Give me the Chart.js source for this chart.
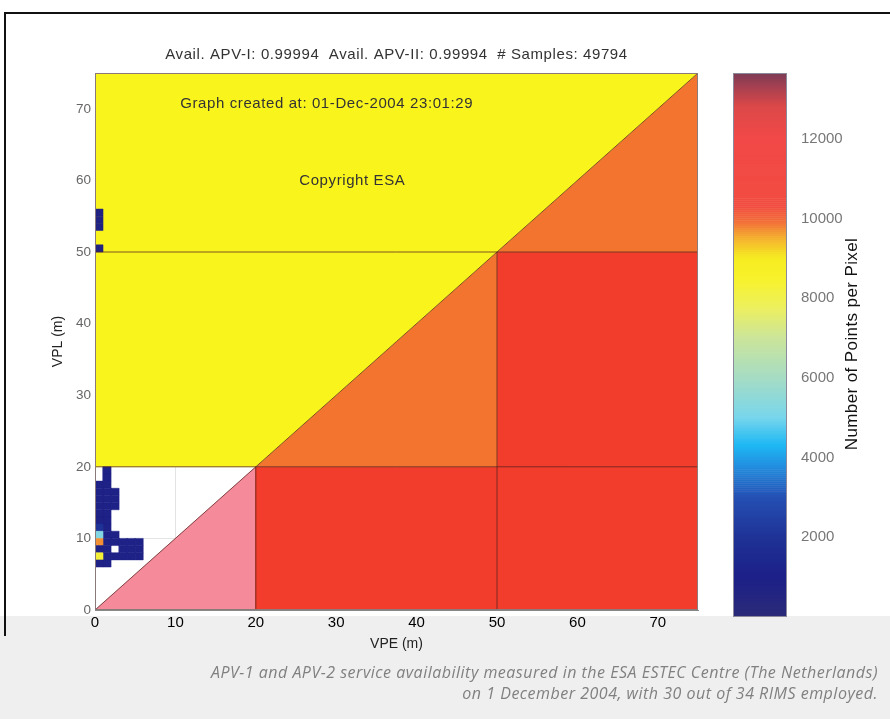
<!DOCTYPE html>
<html>
<head>
<meta charset="utf-8">
<script src="https://cdn.jsdelivr.net/npm/chart.js@4.4.1/dist/chart.umd.min.js"></script>
<style>
html, body { margin: 0; padding: 0; background: #fff; }
#page { position: relative; width: 890px; height: 719px; overflow: hidden; background: #fff; }
#band { position: absolute; left: 0; top: 616px; width: 890px; height: 103px; background: #efefef; }
#frameTop { position: absolute; left: 4px; top: 12px; width: 886px; height: 2px; background: #111; }
#frameLeft { position: absolute; left: 4px; top: 12px; width: 2px; height: 624px; background: #111; }
#main { position: absolute; left: 0; top: 0; }
#cbar { position: absolute; left: 700px; top: 0; }
#caption { position: absolute; right: 12px; top: 662px; text-align: right; font-family: "Open Sans", Lato, sans-serif;
           font-style: italic; font-size: 16px; letter-spacing: 0.5px; line-height: 21px; color: #808080; }
</style>
</head>
<body>
<div id="page">
  <div id="band"></div>
  <div id="frameTop"></div>
  <div id="frameLeft"></div>
  <canvas id="main" width="890" height="719"></canvas>
  <canvas id="cbar" width="190" height="719"></canvas>
  <div id="caption">APV-1 and APV-2 service availability measured in the ESA ESTEC Centre (The Netherlands)<br>on 1 December 2004, with 30 out of 34 RIMS employed.</div>
</div>
<script>
// ── Data ───────────────────────────────────────────────────────────────
var titleText = "Avail. APV-I: 0.99994  Avail. APV-II: 0.99994  # Samples: 49794";
var axisMin = 0;
var axisMax = 75;
var axisTicks = [0, 10, 20, 30, 40, 50, 60, 70];

// in-plot notes (data coordinates, left aligned)
var noteTexts = ["Graph created at: 01-Dec-2004 23:01:29", "Copyright ESA"];
var noteX = [10.6, 25.4];
var noteY = [70.7, 59.9];

// Stanford regions (polygons in metres)
var regionColors = ["#faf41d", "#f2742f", "#f23c2c", "#f58a9a"];
var regionX = [[0, 20, 75, 0], [20, 50, 50, 75, 75], [20, 75, 75, 50, 50, 20], [0, 20, 20]];
var regionY = [[20, 20, 75, 75], [20, 20, 50, 50, 75], [0, 0, 50, 50, 20, 20], [0, 0, 20]];

// alert-limit lines and VPL = VPE diagonal
var lineX = [[0, 75], [0, 75], [20, 20], [50, 50], [0, 75]];
var lineY = [[20, 20], [50, 50], [0, 20], [0, 50], [0, 75]];

// histogram cells (1 m bins, lower-left corner) and points per pixel
var cellX = [0, 0, 0, 0, 0, 0, 0, 0, 0, 0, 0, 0,
             1, 1, 1, 1, 1, 1, 1, 1, 1, 1, 1, 1, 1, 1,
             2, 2, 2, 2, 2, 2,
             3, 3, 3, 4, 4, 4, 5, 5, 5,
             0, 0, 0, 0];
var cellY = [6, 7, 8, 9, 10, 11, 12, 13, 14, 15, 16, 17,
             6, 7, 8, 9, 10, 11, 12, 13, 14, 15, 16, 17, 18, 19,
             7, 9, 10, 14, 15, 16,
             7, 8, 9, 7, 8, 9, 7, 8, 9,
             50, 53, 54, 55];
var cellCount = [900, 8300, 900, 9700, 5200, 2000, 900, 900, 900, 900, 900, 900,
                 900, 900, 900, 900, 900, 900, 900, 900, 900, 900, 900, 900, 900, 900,
                 900, 900, 900, 900, 900, 900,
                 900, 900, 900, 900, 900, 900, 900, 900, 900,
                 700, 700, 700, 700];

// colour bar
var cbarMin = 0;
var cbarMax = 13650;
var cbarTicks = [2000, 4000, 6000, 8000, 10000, 12000];
var cbarTitle = "Number of Points per Pixel";
var cmapValues = [0, 1000, 2000, 3000, 3800, 4300, 5000, 6000, 7000, 7800, 8500, 9000, 9500, 9900, 10300, 12000, 12800, 13300, 13650];
var cmapColors = ["#2b2a78", "#1c2088", "#1f3296", "#2450b4", "#2290e0", "#1eb8f4", "#78d6ec", "#a6dcc4", "#cce59a",
                  "#eef05a", "#f8f22a", "#f6ec22", "#f4b030", "#f27038", "#f24c40", "#f24848", "#dc4848", "#a44050", "#7c3c56"];
var cbarSlab = 50;

Chart.defaults.font.family = '"Liberation Sans", Arial, sans-serif';

// ── Helpers ────────────────────────────────────────────────────────────
function hexToRgb(h) {
    return [parseInt(h.substr(1, 2), 16), parseInt(h.substr(3, 2), 16), parseInt(h.substr(5, 2), 16)];
}
function colorFor(v) {
    if (v <= cmapValues[0]) { return cmapColors[0]; }
    for (var i = 1; i < cmapValues.length; i++) {
        if (v <= cmapValues[i]) {
            var t = (v - cmapValues[i - 1]) / (cmapValues[i] - cmapValues[i - 1]);
            var a = hexToRgb(cmapColors[i - 1]), b = hexToRgb(cmapColors[i]);
            return "rgb(" + Math.round(a[0] + (b[0] - a[0]) * t) + "," +
                Math.round(a[1] + (b[1] - a[1]) * t) + "," + Math.round(a[2] + (b[2] - a[2]) * t) + ")";
        }
    }
    return cmapColors[cmapColors.length - 1];
}
function polygon(xs, ys) {
    var pts = xs.map(function (x, i) { return { x: x, y: ys[i] }; });
    pts.push({ x: xs[0], y: ys[0] });
    return pts;
}
function fixedTicks(list) {
    return function (scale) {
        scale.ticks = list.map(function (v) { return { value: v }; });
    };
}

// ── Main Stanford plot ─────────────────────────────────────────────────
var datasets = [];
lineX.forEach(function (xs, i) {
    datasets.push({
        data: polygon(xs, lineY[i]).slice(0, xs.length),
        showLine: true, fill: false, pointRadius: 0,
        borderColor: "rgba(85,35,30,0.75)", borderWidth: 1
    });
});
cellX.forEach(function (x, i) {
    var c = colorFor(cellCount[i]);
    datasets.push({
        data: polygon([x, x + 1, x + 1, x], [cellY[i], cellY[i], cellY[i] + 1, cellY[i] + 1]),
        showLine: true, fill: "shape", pointRadius: 0,
        backgroundColor: c, borderColor: c, borderWidth: 0.5
    });
});
regionX.forEach(function (xs, i) {
    datasets.push({
        data: polygon(xs, regionY[i]),
        showLine: true, fill: "shape", pointRadius: 0,
        backgroundColor: regionColors[i], borderColor: regionColors[i], borderWidth: 0.5
    });
});

var textPlugin = {
    id: "stanfordText",
    afterDatasetsDraw: function (chart) {
        var ctx = chart.ctx, a = chart.chartArea;
        var sx = chart.scales.x, sy = chart.scales.y;
        ctx.save();
        ctx.strokeStyle = "#8a7a7a";
        ctx.lineWidth = 1;
        ctx.strokeRect(a.left + 0.5, a.top + 0.5, a.right - a.left - 1, a.bottom - a.top - 1);
        ctx.fillStyle = "#333";
        ctx.font = '15px "Liberation Sans", Arial, sans-serif';
        ctx.letterSpacing = "0.6px";
        ctx.textBaseline = "middle";
        ctx.textAlign = "center";
        ctx.fillText(titleText, (a.left + a.right) / 2, 55);
        ctx.textAlign = "left";
        noteTexts.forEach(function (t, i) {
            ctx.fillText(t, sx.getPixelForValue(noteX[i]), sy.getPixelForValue(noteY[i]));
        });
        ctx.restore();
    }
};

new Chart(document.getElementById("main"), {
    type: "scatter",
    data: { datasets: datasets },
    options: {
        responsive: false,
        animation: false,
        layout: { padding: { left: 46, right: 192, top: 73, bottom: 62 } },
        plugins: { legend: { display: false }, tooltip: { enabled: false } },
        scales: {
            x: {
                type: "linear", min: axisMin, max: axisMax,
                afterBuildTicks: fixedTicks(axisTicks),
                afterFit: function (s) { s.height = 47; },
                ticks: { color: "#000", font: { size: 15 }, padding: 4 },
                grid: { color: "#e4e4e4", drawTicks: false },
                border: { color: "#888" },
                title: { display: true, text: "VPE (m)", color: "#222", font: { size: 14 } }
            },
            y: {
                type: "linear", min: axisMin, max: axisMax,
                afterBuildTicks: fixedTicks(axisTicks),
                afterFit: function (s) { s.width = 49; },
                ticks: { color: "#666", font: { size: 13.5 }, padding: 4 },
                grid: { color: "#e4e4e4", drawTicks: false },
                border: { color: "#888" },
                title: { display: true, text: "VPL (m)", color: "#222", font: { size: 14 } }
            }
        }
    },
    plugins: [textPlugin]
});

// ── Colour bar ─────────────────────────────────────────────────────────
var cbarSets = [];
for (var v = cbarMin; v < cbarMax; v += cbarSlab) {
    var h = Math.min(cbarSlab, cbarMax - v);
    cbarSets.push({ data: [h], backgroundColor: colorFor(v + h / 2), borderWidth: 0, barPercentage: 1, categoryPercentage: 1 });
}

var cbarTitlePlugin = {
    id: "cbarTitle",
    afterDraw: function (chart) {
        var ctx = chart.ctx, a = chart.chartArea;
        ctx.save();
        ctx.strokeStyle = "#8a8a9a";
        ctx.strokeRect(a.left + 0.5, a.top + 0.5, a.right - a.left - 1, a.bottom - a.top - 1);
        ctx.translate(152, 344);
        ctx.rotate(-Math.PI / 2);
        ctx.fillStyle = "#111";
        ctx.font = '17px "Liberation Sans", Arial, sans-serif';
        ctx.letterSpacing = "0.4px";
        ctx.textAlign = "center";
        ctx.textBaseline = "middle";
        ctx.fillText(cbarTitle, 0, 0);
        ctx.restore();
    }
};

new Chart(document.getElementById("cbar"), {
    type: "bar",
    data: { labels: [""], datasets: cbarSets },
    options: {
        responsive: false,
        animation: false,
        layout: { padding: { left: 33, right: 45, top: 73, bottom: 102 } },
        plugins: { legend: { display: false }, tooltip: { enabled: false } },
        scales: {
            x: { stacked: true, display: false },
            y: {
                stacked: true, position: "right", min: cbarMin, max: cbarMax,
                afterBuildTicks: fixedTicks(cbarTicks),
                afterFit: function (s) { s.width = 58; },
                ticks: {
                    color: "#777", font: { size: 15 }, padding: 6,
                    callback: function (val) { return String(val); }
                },
                grid: { display: false },
                border: { display: false }
            }
        }
    },
    plugins: [cbarTitlePlugin]
});
</script>
</body>
</html>
